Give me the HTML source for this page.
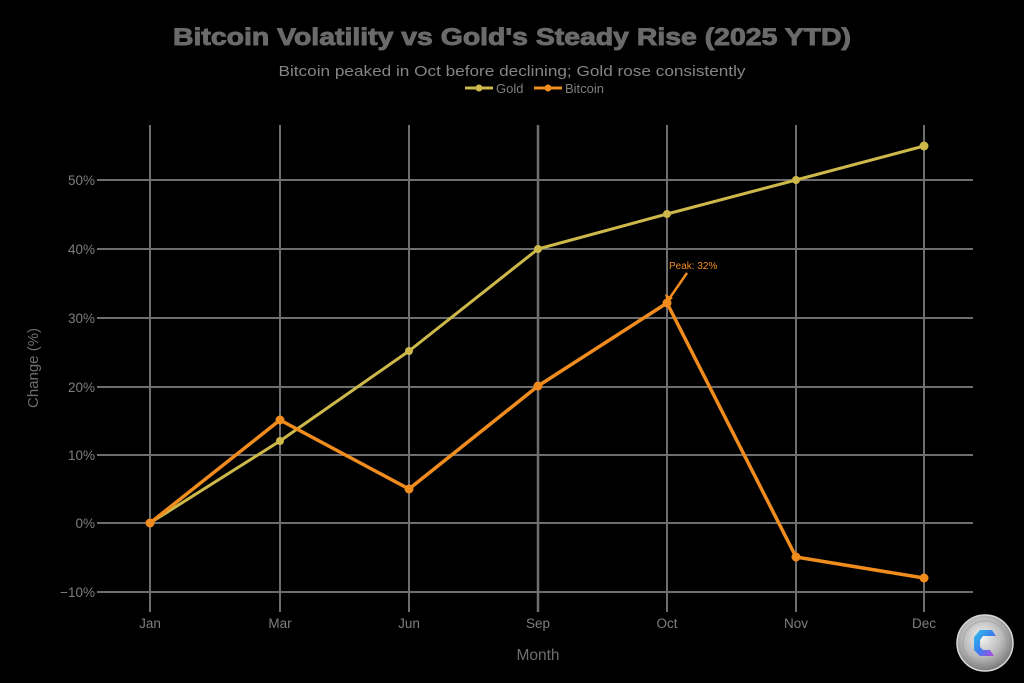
<!DOCTYPE html>
<html>
<head>
<meta charset="utf-8">
<style>
html,body{margin:0;padding:0;background:#000;}
svg{display:block;}
text{font-family:"Liberation Sans",Arial,sans-serif;}
</style>
</head>
<body>
<svg width="1024" height="683" viewBox="0 0 1024 683" xmlns="http://www.w3.org/2000/svg">
<defs>
<radialGradient id="coin" cx="45%" cy="40%" r="60%">
<stop offset="0" stop-color="#f4f4f4"/>
<stop offset="0.6" stop-color="#b8b8b8"/>
<stop offset="1" stop-color="#7a7a7a"/>
</radialGradient>
<linearGradient id="logoG" x1="0" y1="0" x2="1" y2="1">
<stop offset="0" stop-color="#2ec4e8"/>
<stop offset="0.5" stop-color="#3a7ff0"/>
<stop offset="1" stop-color="#c040e0"/>
</linearGradient>
</defs>
<rect width="1024" height="683" fill="#000"/>

<!-- Title -->
<text x="512" y="45" text-anchor="middle" font-size="24" font-weight="bold" fill="#6a6a6a" stroke="#6a6a6a" stroke-width="0.9" textLength="678" lengthAdjust="spacingAndGlyphs">Bitcoin Volatility vs Gold's Steady Rise (2025 YTD)</text>
<text x="512" y="76" text-anchor="middle" font-size="15" fill="#858585" textLength="467" lengthAdjust="spacingAndGlyphs">Bitcoin peaked in Oct before declining; Gold rose consistently</text>

<!-- Legend -->
<line x1="465" y1="88" x2="493" y2="88" stroke="#cdb84a" stroke-width="3"/>
<circle cx="479" cy="88" r="3.5" fill="#cdb84a"/>
<text x="496" y="93" font-size="13" fill="#7e7e7e">Gold</text>
<line x1="534" y1="88" x2="562" y2="88" stroke="#f08c1e" stroke-width="3"/>
<circle cx="548" cy="88" r="3.5" fill="#f08c1e"/>
<text x="565" y="93" font-size="13" fill="#7e7e7e">Bitcoin</text>

<!-- Grid -->
<g stroke="#6e6e6e" stroke-width="2">
<line x1="97" y1="180" x2="973" y2="180"/>
<line x1="97" y1="249" x2="973" y2="249"/>
<line x1="97" y1="318" x2="973" y2="318"/>
<line x1="97" y1="387" x2="973" y2="387"/>
<line x1="97" y1="455" x2="973" y2="455"/>
<line x1="97" y1="523" x2="973" y2="523"/>
<line x1="97" y1="592" x2="973" y2="592"/>
<line x1="150" y1="125" x2="150" y2="612"/>
<line x1="280" y1="125" x2="280" y2="612"/>
<line x1="409" y1="125" x2="409" y2="612"/>
<line x1="538" y1="125" x2="538" y2="612" stroke-width="2.5"/>
<line x1="667" y1="125" x2="667" y2="612"/>
<line x1="796" y1="125" x2="796" y2="612"/>
<line x1="924" y1="125" x2="924" y2="612"/>
</g>

<!-- Y tick labels -->
<g font-size="13.5" fill="#7e7e7e" text-anchor="end">
<text x="95" y="185">50%</text>
<text x="95" y="254">40%</text>
<text x="95" y="323">30%</text>
<text x="95" y="392">20%</text>
<text x="95" y="460">10%</text>
<text x="95" y="528">0%</text>
<text x="95" y="597">−10%</text>
</g>
<text transform="translate(38,368) rotate(-90)" text-anchor="middle" font-size="15" fill="#6e6e6e">Change (%)</text>

<!-- X tick labels -->
<g font-size="13.5" fill="#7e7e7e" text-anchor="middle">
<text x="150" y="628">Jan</text>
<text x="280" y="628">Mar</text>
<text x="409" y="628">Jun</text>
<text x="538" y="628">Sep</text>
<text x="667" y="628">Oct</text>
<text x="796" y="628">Nov</text>
<text x="924" y="628">Dec</text>
</g>
<text x="538" y="660" text-anchor="middle" font-size="15.5" fill="#6e6e6e">Month</text>

<!-- Gold series -->
<polyline fill="none" stroke="#cdb84a" stroke-width="3" stroke-linejoin="round"
 points="150,523 280,441 409,351 538,249 667,214 796,180 924,146"/>
<g fill="#cdb84a">
<circle cx="150" cy="523" r="4"/><circle cx="280" cy="441" r="4"/><circle cx="409" cy="351" r="4"/>
<circle cx="538" cy="249" r="4"/><circle cx="667" cy="214" r="4"/><circle cx="796" cy="180" r="4"/>
<circle cx="924" cy="146" r="4.5"/>
</g>

<!-- Bitcoin series -->
<polyline fill="none" stroke="#f08c1e" stroke-width="3.5" stroke-linejoin="round"
 points="150,523 280,420 409,489 538,386 667,303 796,557 924,578"/>
<g fill="#f08c1e">
<circle cx="150" cy="523" r="4.5"/><circle cx="280" cy="420" r="4.5"/><circle cx="409" cy="489" r="4.5"/>
<circle cx="538" cy="386" r="4.5"/><circle cx="667" cy="303" r="4.5"/><circle cx="796" cy="557" r="4.5"/>
<circle cx="924" cy="578" r="4.5"/>
</g>

<!-- Annotation -->
<line x1="687" y1="273" x2="669" y2="299" stroke="#f08c1e" stroke-width="2.5"/>
<path d="M667,303 L665,294 L673,298 Z" fill="#f08c1e"/>
<text x="669" y="269" font-size="10" fill="#f08c1e">Peak: 32%</text>

<!-- Logo -->
<circle cx="985" cy="643" r="28" fill="url(#coin)" stroke="#d8d8d8" stroke-width="1.5"/>
<circle cx="985" cy="643" r="22" fill="none" stroke="#9a9a9a" stroke-width="1" opacity="0.6"/>
<path d="M992,630 L980,630 L974,637 L974,650 L980,656 L994,656 L990,650 L983,650 L980,647 L980,640 L983,636 L996,636 Z" fill="url(#logoG)"/>
</svg>
</body>
</html>
